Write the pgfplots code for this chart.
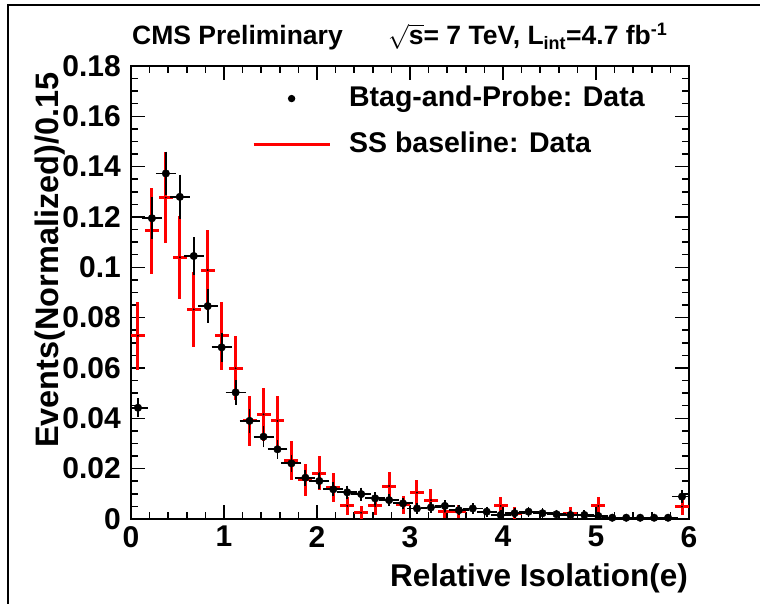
\documentclass[border=0pt]{standalone}
\usepackage{fontspec}
\setmainfont{Liberation Sans}
\usepackage{pgfplots}
\pgfplotsset{compat=1.18}
\usepackage{pgfplotstable}

\pgfplotstableread{
x y ey
0.075 0.0442 0.0025
0.225 0.1195 0.0072
0.375 0.1373 0.0075
0.525 0.1280 0.0076
0.675 0.1045 0.0063
0.825 0.0846 0.0054
0.975 0.0682 0.0045
1.125 0.0503 0.0038
1.275 0.0390 0.0036
1.425 0.0327 0.0030
1.575 0.0277 0.0025
1.725 0.0221 0.0022
1.875 0.0164 0.0020
2.025 0.0151 0.0018
2.175 0.0118 0.0016
2.325 0.0106 0.0015
2.475 0.0099 0.0014
2.625 0.0082 0.0013
2.775 0.0075 0.0012
2.925 0.0062 0.0011
3.075 0.0042 0.0010
3.225 0.0046 0.0010
3.375 0.0052 0.0010
3.525 0.0035 0.0009
3.675 0.0042 0.0009
3.825 0.0029 0.0008
3.975 0.0016 0.0006
4.125 0.0023 0.0007
4.275 0.0029 0.0008
4.425 0.0023 0.0007
4.575 0.0019 0.0006
4.725 0.0016 0.0006
4.875 0.0016 0.0006
5.025 0.0012 0.0005
5.175 0.0005 0.0003
5.325 0.0005 0.0003
5.475 0.0005 0.0003
5.625 0.0005 0.0003
5.775 0.0005 0.0003
5.925 0.0089 0.0013
}\blackdata

\pgfplotstableread{
x y ey
0.075 0.0728 0.0136
0.225 0.1145 0.0172
0.375 0.1277 0.0180
0.525 0.1040 0.0164
0.675 0.0833 0.0150
0.825 0.0989 0.0160
0.975 0.0728 0.0136
1.125 0.0599 0.0128
1.275 0.0390 0.0100
1.425 0.0416 0.0106
1.575 0.0390 0.0100
1.725 0.0232 0.0077
1.875 0.0155 0.0063
2.025 0.0182 0.0068
2.175 0.0126 0.0058
2.325 0.0052 0.0036
2.475 0.0025 0.0025
2.625 0.0052 0.0036
2.775 0.0131 0.0055
2.925 0.0056 0.0036
3.075 0.0105 0.0049
3.225 0.0075 0.0044
3.375 0.0029 0.0025
3.525 0.0029 0.0025
3.975 0.0052 0.0036
4.125 0.0023 0.0023
4.725 0.0023 0.0023
5.025 0.0052 0.0036
5.925 0.0049 0.0034
}\reddata

\begin{document}
\begin{tikzpicture}[x=1pt,y=1pt]
\useasboundingbox (0,0) rectangle (760,604);
\draw[line width=2pt] (8,0) -- (8,599) -- (760,599);
\begin{axis}[
  at={(131pt,85pt)}, anchor=south west,
  scale only axis, width=558pt, height=453pt,
  xmin=0, xmax=6, ymin=0, ymax=0.18,
  axis line style={line width=2pt},
  tick style={line width=1.5pt, black},
  major tick length=14pt, minor tick length=7pt,
  tick align=inside,
  xtick={0,1,2,3,4,5,6}, xticklabels={0,1,2,3,4,5,6}, minor x tick num=4,
  ytick={0,0.02,0.04,0.06,0.08,0.1,0.12,0.14,0.16,0.18},
  yticklabels={0,0.02,0.04,0.06,0.08,0.1,0.12,0.14,0.16,0.18},
  minor y tick num=3,
  scaled y ticks=false,
  ticklabel style={font=\fontsize{30}{30}\selectfont\bfseries, inner sep=0pt},
  xticklabel style={anchor=north, yshift=-7pt},
  yticklabel style={anchor=east, xshift=-10pt},
  /pgf/number format/assume math mode=true,
  legend style={draw=none, fill=none, at={(axis cs:1.30,0.1725)}, anchor=north west,
    inner sep=0pt, row sep=19pt, column sep=18pt,
    font=\fontsize{28.5}{28.5}\selectfont\bfseries,
    nodes={inner sep=0pt, text height=21pt, text depth=6pt}},
  legend cell align=left,
]
\addlegendimage{legend image code/.code={\path[draw=none, fill=none] (0pt,0pt) -- (76pt,0pt); \fill[black, draw=none] (38pt,0pt) circle (3.7pt);}}
\addlegendentry{Btag-and-Probe: Data}
\addlegendimage{legend image code/.code={\draw[red, line width=3pt] (0pt,0pt) -- (76pt,0pt);}}
\addlegendentry{SS baseline: Data}

\addplot[red, only marks, mark=*, mark size=0.7pt, mark options={black}, forget plot,
  error bars/.cd, x dir=both, x fixed=0.075, y dir=both, y explicit, error mark=none,
  error bar style={line width=3pt, red}]
  table[x=x, y=y, y error=ey] {\reddata};

\addplot[black, only marks, mark=*, mark size=3.8pt, forget plot,
  error bars/.cd, x dir=both, x fixed=0.075, y dir=both, y explicit, error mark=-,
  error bar style={line width=1.8pt, black},
  error mark options={line width=1.8pt, mark size=3pt, black}]
  table[x=x, y=y, y error=ey] {\blackdata};
\end{axis}
\node[anchor=base west, inner sep=0pt, font=\fontsize{26.5}{26.5}\selectfont\bfseries] at (132,559) {CMS Preliminary};
\node[anchor=base west, inner sep=0pt, font=\fontsize{26.5}{26.5}\selectfont\bfseries] at (388,559)
  {$\sqrt{\mbox{s}}$= 7 TeV, L$_{\mbox{\fontsize{18}{18}\selectfont\bfseries int}}$=4.7 fb$^{\mbox{\fontsize{18}{18}\selectfont\bfseries -1}}$};
\node[anchor=base east, inner sep=0pt, font=\fontsize{31.5}{31.5}\selectfont\bfseries] at (688,17) {Relative Isolation(e)};
\node[rotate=90, anchor=base east, inner sep=0pt, font=\fontsize{32.5}{32.5}\selectfont\bfseries] at (58,532) {Events(Normalized)/0.15};
\end{tikzpicture}
\end{document}
